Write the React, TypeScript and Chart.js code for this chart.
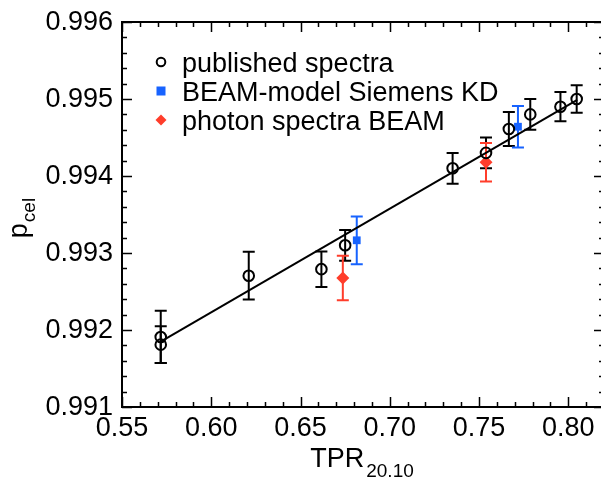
import React, { useEffect, useRef } from "react";
import { Chart, registerables } from "chart.js";

Chart.register(...registerables);

// ---- data ----
const pubX = [0.5717, 0.5717, 0.621, 0.6617, 0.675, 0.7352, 0.7539, 0.7667, 0.7787, 0.7956, 0.8047];
const pubY = [0.99191, 0.99181, 0.992705, 0.99279, 0.9931, 0.9941, 0.9943, 0.99461, 0.9948, 0.9949, 0.995];
const pubErr = [0.00034, 0.00024, 0.00031, 0.00023, 0.0002, 0.0002, 0.0002, 0.00022, 0.0002, 0.00019, 0.00018];

const beamX = [0.6815, 0.7718];
const beamY = [0.993165, 0.99464];
const beamErr = [0.00031, 0.00027];

const photX = [0.6737, 0.7539];
const photY = [0.992675, 0.994178];
const photErr = [0.00029, 0.00025];

const fitX = [0.5717, 0.805];
const fitY = [0.99185, 0.99499];

const xTicks = [0.55, 0.6, 0.65, 0.7, 0.75, 0.8];
const xTickLabels = ["0.55", "0.60", "0.65", "0.70", "0.75", "0.80"];
const yTicks = [0.991, 0.992, 0.993, 0.994, 0.995, 0.996];
const yTickLabels = ["0.991", "0.992", "0.993", "0.994", "0.995", "0.996"];
const seriesLabels = ["published spectra", "BEAM-model Siemens KD", "photon spectra BEAM"];

const BLUE = "#1763ff";
const RED = "#ff3d2b";
const FONT = "Liberation Sans, Arial, Helvetica, sans-serif";

const toPts = (xs: number[], ys: number[]) => xs.map((x, i) => ({ x, y: ys[i] }));

const decorPlugin = {
  id: "decor",
  beforeDatasetsDraw(chart: any) {
    const { ctx, scales } = chart;
    const xs = scales.x;
    const ys = scales.y;
    const drawErr = (xv: number[], yv: number[], ev: number[], color: string) => {
      ctx.save();
      ctx.strokeStyle = color;
      ctx.lineWidth = 2;
      xv.forEach((x, i) => {
        const px = xs.getPixelForValue(x);
        const top = ys.getPixelForValue(yv[i] + ev[i]);
        const bot = ys.getPixelForValue(yv[i] - ev[i]);
        ctx.beginPath();
        ctx.moveTo(px, top);
        ctx.lineTo(px, bot);
        ctx.moveTo(px - 6, top);
        ctx.lineTo(px + 6, top);
        ctx.moveTo(px - 6, bot);
        ctx.lineTo(px + 6, bot);
        ctx.stroke();
      });
      ctx.restore();
    };
    drawErr(pubX, pubY, pubErr, "#000");
    drawErr(beamX, beamY, beamErr, BLUE);
    drawErr(photX, photY, photErr, RED);
  },
  afterDraw(chart: any) {
    const { ctx, chartArea, scales } = chart;
    const xs = scales.x;
    const ys = scales.y;
    const { left, right, top, bottom } = chartArea;
    ctx.save();
    // frame
    ctx.strokeStyle = "#000";
    ctx.lineWidth = 2;
    ctx.strokeRect(left, top, right - left, bottom - top);
    // ticks
    ctx.lineWidth = 1.5;
    ctx.beginPath();
    for (let i = 0; i <= 27; i++) {
      const v = 0.55 + i * 0.01;
      const px = Math.round(xs.getPixelForValue(v)) + 0.5;
      if (px > right) break;
      const len = i % 5 === 0 ? 10 : 5;
      ctx.moveTo(px, bottom);
      ctx.lineTo(px, bottom - len);
      ctx.moveTo(px, top);
      ctx.lineTo(px, top + len);
    }
    for (let i = 0; i <= 25; i++) {
      const v = 0.991 + i * 0.0002;
      const py = Math.round(ys.getPixelForValue(v)) + 0.5;
      const len = i % 5 === 0 ? 10 : 5;
      ctx.moveTo(left, py);
      ctx.lineTo(left + len, py);
      ctx.moveTo(right, py);
      ctx.lineTo(right - len, py);
    }
    ctx.stroke();
    // tick labels
    ctx.fillStyle = "#000";
    ctx.font = `27px ${FONT}`;
    ctx.textAlign = "center";
    ctx.textBaseline = "top";
    xTicks.forEach((v, i) => {
      ctx.fillText(xTickLabels[i], xs.getPixelForValue(v), bottom + 8);
    });
    ctx.textAlign = "right";
    ctx.textBaseline = "middle";
    yTicks.forEach((v, i) => {
      ctx.fillText(yTickLabels[i], left - 9, ys.getPixelForValue(v) + 1);
    });
    // x title
    ctx.textBaseline = "alphabetic";
    ctx.textAlign = "left";
    const t1 = "TPR";
    const t2 = "20.10";
    ctx.font = `19px ${FONT}`;
    const w2 = ctx.measureText(t2).width;
    ctx.font = `27px ${FONT}`;
    const w1 = ctx.measureText(t1).width;
    const cx = (left + xs.getPixelForValue(0.82)) / 2 - 1;
    const sx = cx - (w1 + w2 + 2) / 2;
    ctx.fillText(t1, sx, 467);
    ctx.font = `19px ${FONT}`;
    ctx.fillText(t2, sx + w1 + 2, 477);
    // y title
    ctx.save();
    ctx.translate(30, 218);
    ctx.rotate(-Math.PI / 2);
    ctx.font = `27px ${FONT}`;
    const pw = ctx.measureText("p").width;
    ctx.font = `19px ${FONT}`;
    const cw = ctx.measureText("cel").width;
    const st = -(pw + cw + 1) / 2;
    ctx.font = `27px ${FONT}`;
    ctx.fillText("p", st, -3);
    ctx.font = `19px ${FONT}`;
    ctx.fillText("cel", st + pw + 1, 5);
    ctx.restore();
    // legend
    const lx = 161;
    const rows = [62, 91, 120];
    ctx.font = `27px ${FONT}`;
    ctx.textAlign = "left";
    ctx.textBaseline = "alphabetic";
    ctx.lineWidth = 2;
    ctx.strokeStyle = "#000";
    ctx.beginPath();
    ctx.arc(lx, rows[0], 4.3, 0, Math.PI * 2);
    ctx.stroke();
    ctx.fillStyle = BLUE;
    ctx.fillRect(lx - 4.5, rows[1] - 4.5, 9, 9);
    ctx.fillStyle = RED;
    ctx.beginPath();
    ctx.moveTo(lx, rows[2] - 5.5);
    ctx.lineTo(lx + 5.5, rows[2]);
    ctx.lineTo(lx, rows[2] + 5.5);
    ctx.lineTo(lx - 5.5, rows[2]);
    ctx.closePath();
    ctx.fill();
    ctx.fillStyle = "#000";
    seriesLabels.forEach((s, i) => ctx.fillText(s, 182, rows[i] + 9.5));
    ctx.restore();
  },
};

export default function App() {
  const ref = useRef<HTMLCanvasElement | null>(null);
  useEffect(() => {
    if (!ref.current) return;
    const chart = new Chart(ref.current, {
      type: "scatter",
      data: {
        datasets: [
          {
            type: "line",
            label: "fit",
            data: toPts(fitX, fitY),
            borderColor: "#000",
            borderWidth: 2,
            pointRadius: 0,
            showLine: true,
            fill: false,
          } as any,
          {
            label: seriesLabels[0],
            data: toPts(pubX, pubY),
            pointStyle: "circle",
            pointRadius: 5.3,
            borderColor: "#000",
            borderWidth: 2,
            backgroundColor: "rgba(0,0,0,0)",
          },
          {
            label: seriesLabels[1],
            data: toPts(beamX, beamY),
            pointStyle: "rect",
            pointRadius: 5.5,
            borderWidth: 0,
            backgroundColor: BLUE,
            borderColor: BLUE,
          },
          {
            label: seriesLabels[2],
            data: toPts(photX, photY),
            pointStyle: "rectRot",
            pointRadius: 6.5,
            borderWidth: 0,
            backgroundColor: RED,
            borderColor: RED,
          },
        ],
      },
      options: {
        responsive: false,
        animation: false,
        devicePixelRatio: 1,
        layout: { autoPadding: false, padding: { left: 122, right: 16, top: 22, bottom: 71 } },
        plugins: { legend: { display: false }, tooltip: { enabled: false } },
        scales: {
          x: { type: "linear", min: 0.55, max: 0.82, display: false },
          y: { type: "linear", min: 0.991, max: 0.996, display: false },
        },
      },
      plugins: [decorPlugin],
    });
    return () => chart.destroy();
  }, []);
  return (
    <div style={{ position: "fixed", left: 0, top: 0, width: 620, height: 478, overflow: "hidden", background: "#fff" }}>
      <canvas ref={ref} width={620} height={478} style={{ display: "block" }} />
    </div>
  );
}
